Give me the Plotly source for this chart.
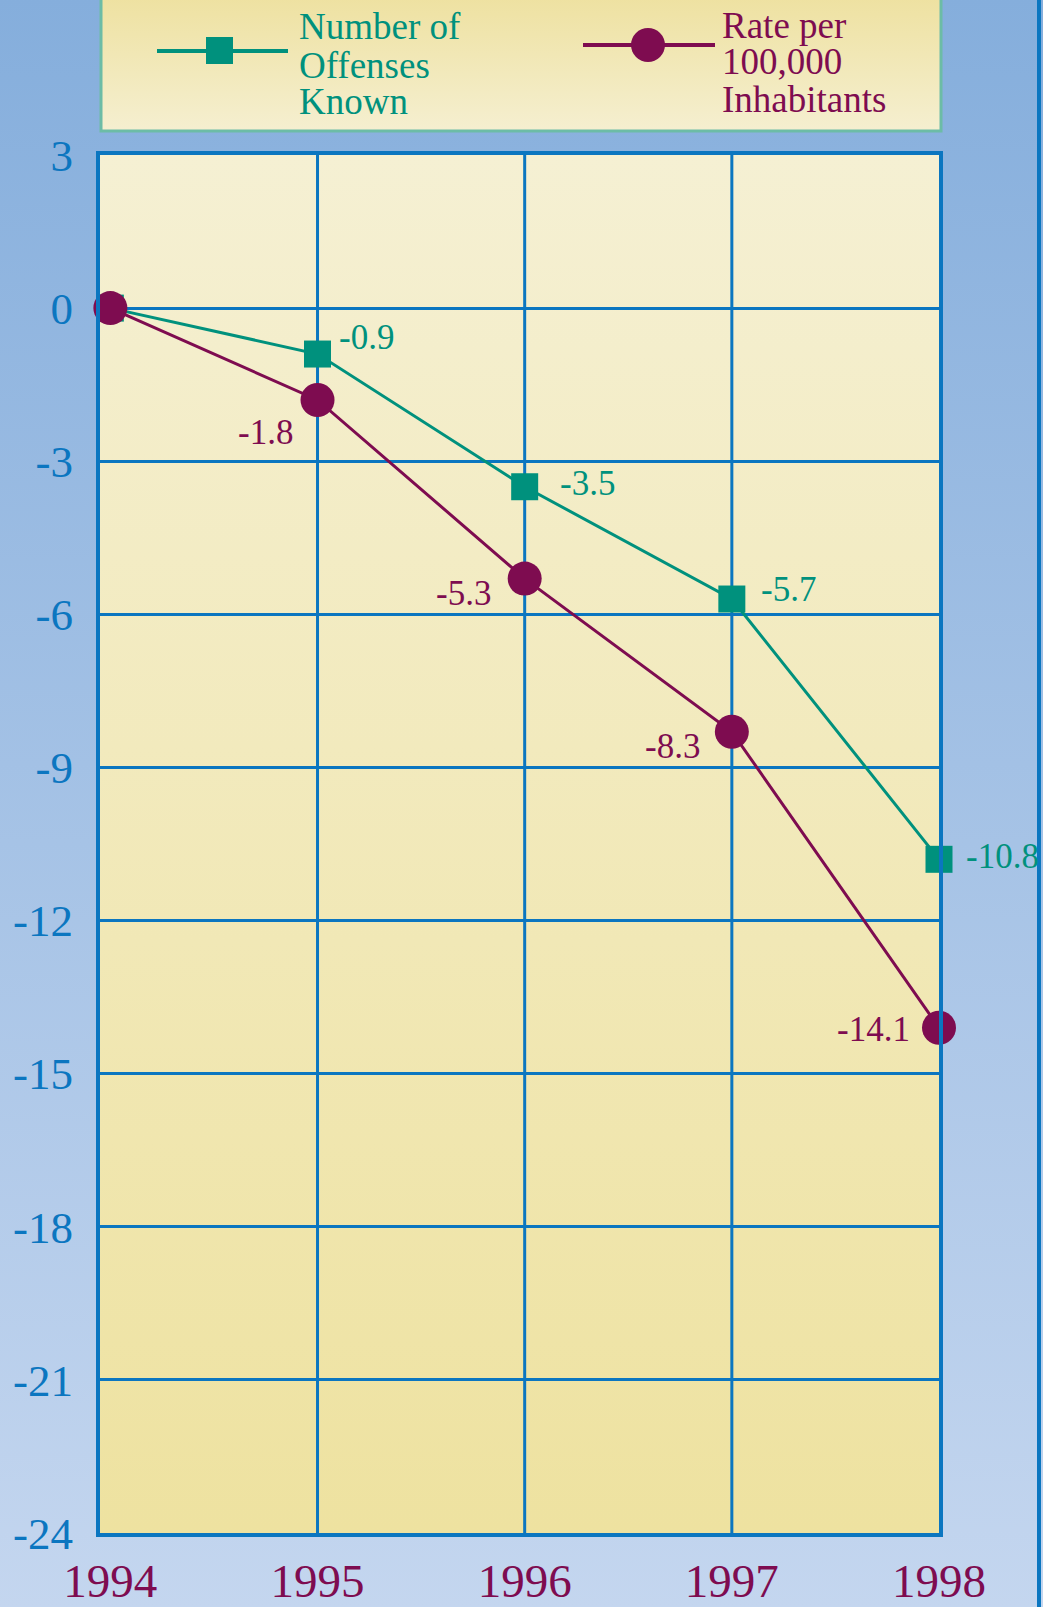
import base64
import plotly.graph_objects as go

# ---------------- data ----------------
years = [1994, 1995, 1996, 1997, 1998]
year_labels = ["1994", "1995", "1996", "1997", "1998"]
offenses = [0.0, -0.9, -3.5, -5.7, -10.8]
rate = [0.0, -1.8, -5.3, -8.3, -14.1]
y_ticks = [3, 0, -3, -6, -9, -12, -15, -18, -21, -24]
y_tick_labels = ["3", "0", "-3", "-6", "-9", "-12", "-15", "-18", "-21", "-24"]
series_names = ["Number of<br>Offenses<br>Known", "Rate per<br>100,000<br>Inhabitants"]

# ---------------- style ----------------
W, H = 1043, 1607
L, R, T, B = 100, 939, 155, 1533
TEAL = "#00917D"
MAROON = "#7E0C50"
BLUE = "#0B76C0"
FONT = "Liberation Serif"


def pxx(x):
    return (x - L) / (R - L)


def pxy(y):
    return (B - y) / (B - T)


def grad_uri(c1, c2):
    svg = (
        "<svg xmlns='http://www.w3.org/2000/svg' width='10' height='100' "
        "viewBox='0 0 10 100' preserveAspectRatio='none'>"
        "<defs><linearGradient id='g' x1='0' y1='0' x2='0' y2='1'>"
        f"<stop offset='0' stop-color='{c1}'/><stop offset='1' stop-color='{c2}'/>"
        "</linearGradient></defs><rect width='10' height='100' fill='url(#g)'/></svg>"
    )
    return "data:image/svg+xml;base64," + base64.b64encode(svg.encode()).decode()


fig = go.Figure()

fig.add_trace(go.Scatter(
    x=years, y=offenses, mode="lines+markers", name="Offenses",
    line=dict(color=TEAL, width=3),
    marker=dict(symbol="square", size=27, color=TEAL),
    cliponaxis=False, showlegend=False,
))
fig.add_trace(go.Scatter(
    x=years, y=rate, mode="lines+markers", name="Rate",
    line=dict(color=MAROON, width=3),
    marker=dict(symbol="circle", size=34, color=MAROON),
    cliponaxis=False, showlegend=False,
))

annotations = []
# data labels (offsets are styling only)
teal_dx = [0, 19, 33, 27, 25]
teal_dy = [0, 17, 3, 10, 3]
maroon_dx = [0, -23, -32, -30, -27]
maroon_dy = [0, -33, -15, -15, -2]
for i in range(1, len(years)):
    annotations.append(dict(
        x=years[i], y=offenses[i], xref="x", yref="y", text=f"{offenses[i]:.1f}",
        showarrow=False, xanchor="left", yanchor="middle",
        xshift=teal_dx[i], yshift=teal_dy[i],
        font=dict(family=FONT, size=35, color=TEAL)))
    annotations.append(dict(
        x=years[i], y=rate[i], xref="x", yref="y", text=f"{rate[i]:.1f}",
        showarrow=False, xanchor="right", yanchor="middle",
        xshift=maroon_dx[i], yshift=maroon_dy[i],
        font=dict(family=FONT, size=35, color=MAROON)))

# legend text (one annotation per line)
leg_lines = [series_names[0].split("<br>"), series_names[1].split("<br>")]
leg_x = [297, 720]
leg_y = [[27, 65, 102], [25, 62, 99]]
leg_col = [TEAL, MAROON]
for k in range(2):
    for j, txt in enumerate(leg_lines[k]):
        annotations.append(dict(
            x=pxx(leg_x[k]), y=pxy(leg_y[k][j]), xref="paper", yref="paper",
            text=txt, showarrow=False, xanchor="left", yanchor="middle",
            font=dict(family=FONT, size=37, color=leg_col[k])))

shapes = []
# vertical grid lines (except first, which is the axis)
for yr in years[1:-1]:
    shapes.append(dict(type="line", xref="x", yref="paper", x0=yr, x1=yr, y0=0, y1=1,
                       line=dict(color=BLUE, width=3), layer="below"))
# legend box border
shapes.append(dict(type="rect", xref="paper", yref="paper",
                   x0=pxx(101), x1=pxx(941), y0=pxy(131), y1=pxy(-5),
                   line=dict(color="#6CBCA6", width=3), fillcolor="rgba(0,0,0,0)", layer="below"))
# legend symbols
shapes.append(dict(type="line", xref="paper", yref="paper",
                   x0=pxx(157), x1=pxx(288), y0=pxy(51), y1=pxy(51),
                   line=dict(color=TEAL, width=4)))
shapes.append(dict(type="rect", xref="paper", yref="paper",
                   x0=pxx(206), x1=pxx(233), y0=pxy(37), y1=pxy(64),
                   line=dict(width=0), fillcolor=TEAL))
shapes.append(dict(type="line", xref="paper", yref="paper",
                   x0=pxx(583), x1=pxx(715), y0=pxy(45), y1=pxy(45),
                   line=dict(color=MAROON, width=4)))
shapes.append(dict(type="circle", xref="paper", yref="paper",
                   x0=pxx(631), x1=pxx(665), y0=pxy(28), y1=pxy(62),
                   line=dict(width=0), fillcolor=MAROON))
# right edge blue line
shapes.append(dict(type="line", xref="paper", yref="paper",
                   x0=pxx(1039), x1=pxx(1039), y0=pxy(H + 5), y1=pxy(-5),
                   line=dict(color=BLUE, width=4)))

images = [
    dict(source=grad_uri("#85AEDC", "#C4D6EF"), xref="paper", yref="paper",
         x=pxx(-2), y=pxy(-2), sizex=pxx(W + 2) - pxx(-2), sizey=pxy(-2) - pxy(H + 2),
         xanchor="left", yanchor="top", sizing="stretch", layer="below"),
    dict(source=grad_uri("#F5F0D3", "#EEE2A0"), xref="paper", yref="paper",
         x=0, y=1, sizex=1, sizey=1,
         xanchor="left", yanchor="top", sizing="stretch", layer="below"),
    dict(source=grad_uri("#EEE1A0", "#F5EFD0"), xref="paper", yref="paper",
         x=pxx(101), y=pxy(-5), sizex=pxx(941) - pxx(101), sizey=pxy(-5) - pxy(131),
         xanchor="left", yanchor="top", sizing="stretch", layer="below"),
]

fig.update_layout(
    width=W, height=H,
    margin=dict(l=L, r=W - R, t=T, b=H - B, pad=0, autoexpand=False),
    paper_bgcolor="#A5C1E5", plot_bgcolor="rgba(0,0,0,0)",
    showlegend=False,
    annotations=annotations, shapes=shapes, images=images,
    xaxis=dict(
        range=[1993.95, 1998], tickmode="array", tickvals=years, ticktext=year_labels,
        showgrid=False, zeroline=False, automargin=False,
        showline=True, linecolor=BLUE, linewidth=4, mirror=True,
        ticks="", ticklen=0, ticklabelstandoff=4,
        tickfont=dict(family=FONT, size=47, color=MAROON),
    ),
    yaxis=dict(
        range=[-24, 3], tickmode="array", tickvals=y_ticks, ticktext=y_tick_labels,
        showgrid=True, gridcolor=BLUE, gridwidth=3, zeroline=False, automargin=False,
        showline=True, linecolor=BLUE, linewidth=4, mirror=True,
        ticks="", ticklen=0, ticklabelstandoff=14,
        tickfont=dict(family=FONT, size=45, color=BLUE),
    ),
)

fig.write_html(
    "out.html",
    config={"displayModeBar": False},
    post_script="document.body.style.margin='0';document.body.style.overflow='hidden';",
)
